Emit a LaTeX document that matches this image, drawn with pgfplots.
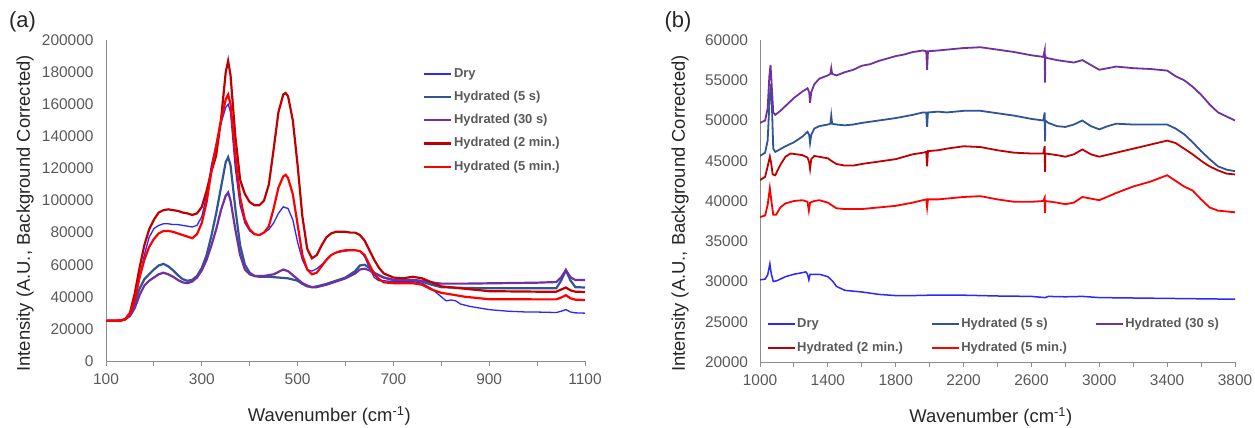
\documentclass[border=0pt]{standalone}
\usepackage{fontspec}
\setmainfont{Liberation Sans}
\usepackage{pgfplots}
\pgfplotsset{compat=1.18}

\definecolor{cdry}{RGB}{40,40,255}
\definecolor{cfive}{RGB}{47,85,151}
\definecolor{cthirty}{RGB}{112,48,160}
\definecolor{ctwo}{RGB}{192,0,0}
\definecolor{cfivemin}{RGB}{255,0,0}
\definecolor{axgray}{RGB}{140,140,140}
\definecolor{tickgray}{RGB}{89,89,89}
\definecolor{labgray}{RGB}{38,38,38}

\pgfplotsset{
  mystyle/.style={
    scale only axis,
    axis x line=bottom, axis y line=left,
    axis line style={draw=axgray, line width=0.9bp, -},
    xtick style={draw=axgray, line width=0.9bp},
    ytick style={draw=none},
    major tick length=5bp,
    tick align=outside,
    tick label style={font=\fontsize{15.5}{18}\selectfont, text=tickgray},
    xticklabel style={yshift=-4bp},
    /pgf/number format/fixed,
    /pgf/number format/precision=0,
    /pgf/number format/assume math mode=true,
    /pgf/number format/1000 sep={},
    scaled ticks=false,
    label style={font=\fontsize{18.5}{22}\selectfont, text=labgray},
    legend cell align=left,
    legend image code/.code={\draw[##1] (0bp,0bp) -- (27bp,0bp);},
  },
}

\begin{document}
\begin{tikzpicture}[x=1bp,y=1bp]
\useasboundingbox (0,0) rectangle (1255,427);

\node[font=\fontsize{22}{26}\selectfont, text=labgray] at (22.5,405) {(a)};
\node[font=\fontsize{22}{26}\selectfont, text=labgray] at (678,405) {(b)};

% ---------------- Panel (a) ----------------
\begin{axis}[mystyle,
  at={(106bp,66bp)}, anchor=origin,
  width=479bp, height=321bp,
  xmin=100, xmax=1100, ymin=0, ymax=200000,
  xtick={100,200,...,1100},
  xticklabels={100,,300,,500,,700,,900,,1100},
  ytick={0,20000,...,200000},
  yticklabel style={xshift=-4bp},
  xlabel={Wavenumber (cm\textsuperscript{-1})},
  ylabel={Intensity (A.U., Background Corrected)},
  xlabel style={at={(axis description cs:0.466,-0.19)}, anchor=base},
  ylabel style={at={(axis description cs:-0.169,0.46)}, anchor=center},
  legend style={at={(axis description cs:0.662,0.92)}, anchor=north west,
    draw=none, fill=none, inner sep=0pt, row sep=7.2bp,
    font=\fontsize{13}{15}\selectfont\bfseries, text=tickgray,
    nodes={inner sep=1.5bp, text height=10bp, text depth=3bp}},
]
\addplot[cdry, line width=1.3bp] coordinates {
(100,25000)(110,25000)(120,25000)(130,25200)(140,26000)(150,29000)(160,38000)(170,52000)(180,66000)(190,77000)
(200,82500)(210,84500)(220,85500)(230,85500)(240,85000)(250,85000)(260,84500)(270,84000)(280,83500)(290,84500)
(300,90000)(310,103000)(320,122000)(330,135000)(340,148000)(350,158000)(355,160000)(360,155000)(370,120000)(380,97000)
(390,86000)(400,81000)(410,79000)(420,78500)(430,80000)(440,82000)(450,86000)(460,92000)(470,96000)(480,95000)
(490,88000)(500,74000)(510,63000)(520,57000)(530,56000)(540,57500)(550,60000)(560,63000)(570,66000)(580,67500)
(590,68000)(600,68500)(610,69000)(620,69000)(630,68500)(640,65000)(650,58000)(660,52000)(670,50000)(680,50000)
(700,49500)(720,49500)(740,49500)(760,48500)(780,45000)(800,40000)(810,37500)(820,38000)(830,37500)(840,35500)
(860,34000)(880,33000)(900,32000)(940,31000)(980,30500)(1000,30500)(1040,30200)(1050,31000)(1060,32000)(1070,30500)
(1080,30000)(1100,29800)};
\addlegendentry{Dry}
\addplot[cfive, line width=2.2bp] coordinates {
(100,25000)(130,25200)(140,26000)(150,28500)(160,36000)(170,45000)(180,51000)(190,54000)(200,57000)(210,59500)
(220,60500)(230,59000)(240,56500)(250,53500)(260,51000)(270,50000)(280,50500)(290,53000)(300,58000)(310,66000)
(320,78000)(330,92000)(340,108000)(350,124000)(355,127000)(360,122000)(370,95000)(380,72000)(390,60000)(400,55000)
(410,53000)(420,52500)(440,52500)(460,52000)(480,51500)(500,50000)(510,48000)(520,46500)(530,46000)(540,46500)
(560,48000)(580,50000)(600,52000)(620,56000)(630,59500)(640,60000)(650,58000)(660,55000)(680,52000)(700,50500)
(740,50500)(760,49500)(780,47500)(800,46000)(850,45500)(900,45300)(1000,45300)(1040,45300)(1050,50000)(1060,56500)
(1070,50000)(1080,46000)(1100,45800)};
\addlegendentry{Hydrated (5 s)}
\addplot[cthirty, line width=2.2bp] coordinates {
(100,25000)(130,25200)(140,26000)(150,28000)(160,33000)(170,41000)(180,47000)(190,50000)(200,52000)(210,54000)
(220,55000)(230,54000)(240,52500)(250,50500)(260,49000)(270,48500)(280,49500)(290,52000)(300,56500)(310,63000)
(320,72000)(330,82000)(340,94000)(350,103000)(355,105000)(360,100000)(370,82000)(380,66000)(390,57000)(400,54000)
(410,53000)(430,53000)(450,54000)(460,55500)(470,57000)(480,56000)(490,53500)(500,51000)(510,48500)(520,47000)
(530,46000)(540,46000)(560,47500)(580,49500)(600,51500)(620,54500)(630,57000)(640,57500)(650,56500)(660,54500)
(680,52000)(700,50500)(740,50500)(760,50000)(780,49000)(800,48200)(850,48200)(900,48400)(1000,48800)(1040,49200)
(1050,52000)(1060,56700)(1070,52000)(1080,50500)(1100,50500)};
\addlegendentry{Hydrated (30 s)}
\addplot[ctwo, line width=2.2bp] coordinates {
(100,25000)(130,25200)(140,26000)(150,30000)(160,42000)(170,58000)(180,72000)(190,82000)(200,88000)(210,92500)
(220,94000)(230,94500)(240,94000)(250,93500)(260,92500)(270,92000)(280,91000)(290,92000)(300,96000)(310,106000)
(320,118000)(330,128000)(340,150000)(350,180000)(355,187000)(360,178000)(370,140000)(380,113000)(390,104000)(400,99000)
(410,97000)(420,97000)(430,100000)(440,110000)(450,132000)(460,155000)(470,166000)(475,167000)(480,165000)(490,150000)
(500,122000)(510,90000)(520,70000)(530,64000)(540,66000)(550,72000)(560,77000)(570,79500)(580,80500)(590,80500)
(600,80500)(610,80000)(620,80000)(630,78500)(640,75000)(650,69000)(660,63000)(670,58000)(680,54500)(700,52000)
(720,51500)(740,52500)(760,51500)(780,49000)(800,46500)(850,45000)(900,43500)(1000,43200)(1040,43200)(1050,44500)
(1060,45800)(1070,44000)(1080,43200)(1100,43000)};
\addlegendentry{Hydrated (2 min.)}
\addplot[cfivemin, line width=2.2bp] coordinates {
(100,25000)(130,25200)(140,26000)(150,29500)(160,38000)(170,52000)(180,63000)(190,71000)(200,76000)(210,79500)
(220,81000)(230,81000)(240,80500)(250,79500)(260,78500)(270,77500)(280,76500)(290,79000)(300,86000)(310,99000)
(320,118000)(330,134000)(340,150000)(350,163000)(355,166000)(360,160000)(370,128000)(380,102000)(390,88000)(400,82000)
(410,79000)(420,78500)(430,80000)(440,84000)(450,95000)(460,108000)(470,115000)(475,116000)(480,114000)(490,104000)
(500,85000)(510,66000)(520,57000)(530,54000)(540,55000)(550,59000)(560,63000)(570,66000)(580,67500)(590,68500)
(600,69000)(610,69000)(620,69000)(630,68500)(640,66000)(650,60000)(660,54000)(670,51000)(680,49000)(700,48500)
(740,48500)(760,47500)(780,44500)(800,42500)(850,40000)(900,38500)(1000,38400)(1040,38400)(1050,39500)(1060,41000)
(1070,39000)(1080,38200)(1100,38000)};
\addlegendentry{Hydrated (5 min.)}
\end{axis}

% ---------------- Panel (b) ----------------
\begin{axis}[mystyle,
  at={(760bp,65bp)}, anchor=origin,
  width=475bp, height=322bp,
  xmin=1000, xmax=3800, ymin=20000, ymax=60000,
  xtick={1000,1200,...,3800},
  xticklabels={1000,,1400,,1800,,2200,,2600,,3000,,3400,,3800},
  ytick={20000,25000,...,60000},
  yticklabel style={xshift=-3.5bp},
  xlabel={Wavenumber (cm\textsuperscript{-1})},
  ylabel={Intensity (A.U., Background Corrected)},
  xlabel style={at={(axis description cs:0.486,-0.188)}, anchor=base},
  ylabel style={at={(axis description cs:-0.168,0.461)}, anchor=center},
  legend columns=3,
  legend style={at={(axis description cs:0.014,0.017)}, anchor=south west,
    draw=none, fill=none, inner sep=0pt, row sep=8.5bp,
    font=\fontsize{13}{15}\selectfont\bfseries, text=tickgray,
    nodes={inner sep=1.5bp, text height=10bp, text depth=3bp},
    /tikz/every even column/.append style={column sep=26.5bp}},
]
\addplot[cdry, line width=1.5bp] coordinates {
(1000,30200)(1030,30300)(1045,30800)(1058,32200)(1066,31000)(1078,30000)(1100,30100)(1150,30600)(1200,30900)(1250,31100)
(1270,31200)(1280,30900)(1288,30200)(1295,30900)(1350,30900)(1400,30600)(1430,30000)(1450,29400)(1500,28900)(1600,28700)
(1700,28400)(1800,28250)(1900,28250)(2000,28300)(2100,28300)(2200,28300)(2400,28200)(2600,28150)(2680,28000)(2700,28150)
(2800,28100)(2900,28150)(3000,28000)(3200,27950)(3400,27900)(3600,27850)(3800,27800)};
\addlegendentry{Dry}
\addplot[cfive, line width=1.8bp] coordinates {
(1000,45600)(1030,46000)(1045,47500)(1055,52000)(1063,54500)(1070,52000)(1078,46500)(1090,46100)(1150,46800)(1200,47300)
(1250,48000)(1280,48600)(1290,48200)(1295,47200)(1302,48200)(1320,49000)(1350,49300)(1400,49500)(1415,49600)(1420,50600)
(1425,49600)(1450,49500)(1500,49400)(1550,49500)(1600,49700)(1700,50000)(1800,50300)(1900,50700)(1960,51000)(1980,51000)
(1985,49200)(1990,51000)(2050,51100)(2100,51000)(2200,51200)(2300,51200)(2400,50900)(2500,50600)(2600,50200)(2670,50000)
(2678,51000)(2680,47400)(2682,50000)(2700,49700)(2750,49300)(2800,49200)(2850,49500)(2900,50000)(2950,49300)(3000,48900)
(3050,49300)(3100,49600)(3200,49500)(3300,49500)(3400,49500)(3450,49000)(3500,48300)(3550,47300)(3600,46200)(3650,45200)
(3700,44300)(3750,43900)(3800,43700)};
\addlegendentry{Hydrated (5 s)}
\addplot[cthirty, line width=1.8bp] coordinates {
(1000,49700)(1030,50000)(1045,51500)(1055,55500)(1062,56900)(1070,54000)(1078,51000)(1090,50700)(1120,51200)(1150,51800)
(1200,52800)(1250,53600)(1280,54000)(1290,53500)(1295,52200)(1302,53500)(1320,54500)(1350,55200)(1400,55600)(1415,55800)
(1420,56500)(1425,55800)(1450,55600)(1500,56000)(1550,56300)(1600,56800)(1650,57000)(1700,57400)(1750,57700)(1800,58000)
(1850,58200)(1900,58500)(1960,58700)(1980,58600)(1985,56300)(1990,58600)(2050,58700)(2100,58800)(2200,59000)(2300,59100)
(2400,58800)(2500,58500)(2600,58100)(2670,57900)(2678,58700)(2680,54700)(2682,58000)(2685,57800)(2750,57500)(2850,57200)
(2900,57500)(2950,56900)(3000,56300)(3050,56500)(3100,56700)(3150,56600)(3200,56500)(3300,56400)(3400,56200)(3450,55500)
(3500,55000)(3550,54200)(3600,53200)(3650,52000)(3700,51000)(3750,50500)(3800,50000)};
\addlegendentry{Hydrated (30 s)}
\addplot[ctwo, line width=1.8bp] coordinates {
(1000,42600)(1030,43000)(1045,44300)(1058,45500)(1065,44800)(1075,43300)(1090,43200)(1120,44500)(1150,45500)(1180,45900)
(1250,45700)(1280,45400)(1290,44800)(1295,44000)(1302,45200)(1320,45600)(1400,45300)(1420,45000)(1450,44600)(1500,44400)
(1550,44400)(1600,44600)(1700,44900)(1800,45200)(1900,45800)(1960,46000)(1980,46100)(1985,44300)(1990,46200)(2050,46300)
(2100,46500)(2200,46800)(2300,46700)(2400,46300)(2500,46000)(2600,45900)(2670,45900)(2678,46800)(2680,43600)(2682,45900)
(2750,45700)(2800,45500)(2850,45800)(2900,46400)(2950,45800)(3000,45500)(3100,46000)(3200,46500)(3300,47000)(3400,47500)
(3450,47200)(3500,46500)(3550,45800)(3600,45000)(3650,44300)(3700,43800)(3750,43400)(3800,43300)};
\addlegendentry{Hydrated (2 min.)}
\addplot[cfivemin, line width=1.8bp] coordinates {
(1000,38000)(1030,38200)(1045,39500)(1058,41600)(1067,40000)(1078,38300)(1095,38300)(1120,39200)(1150,39700)(1200,40000)
(1250,40100)(1280,39900)(1288,38800)(1295,39800)(1320,40000)(1350,40100)(1400,39800)(1450,39100)(1500,39000)(1600,39000)
(1700,39200)(1800,39400)(1900,39800)(1960,40100)(1980,40200)(1985,39200)(1990,40200)(2050,40200)(2100,40300)(2200,40500)
(2300,40600)(2400,40200)(2500,39900)(2600,39900)(2670,40000)(2678,40400)(2680,38500)(2682,40000)(2750,39800)(2800,39600)
(2850,39800)(2900,40500)(2950,40300)(3000,40100)(3100,41000)(3200,41800)(3300,42400)(3400,43200)(3450,42500)(3500,41800)
(3550,41300)(3600,40200)(3650,39200)(3700,38800)(3750,38700)(3800,38600)};
\addlegendentry{Hydrated (5 min.)}
\end{axis}
\end{tikzpicture}
\end{document}
